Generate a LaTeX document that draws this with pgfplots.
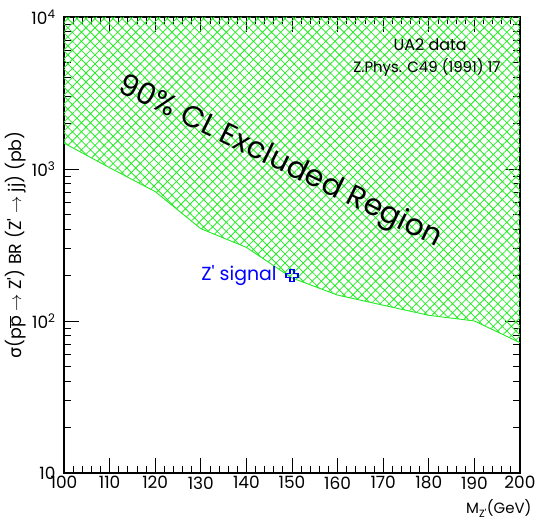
\documentclass[border=0pt]{standalone}
\usepackage{fontspec}
\setmainfont{Poppins}
\newfontfamily\dejavu{DejaVu Sans}
\usepackage{pgfplots}
\pgfplotsset{compat=1.18}
\usetikzlibrary{patterns.meta}
\definecolor{hatchgreen}{rgb}{0.15,0.92,0.15}
\pgfdeclareplotmark{oplus}{%
  \pgfpathmoveto{\pgfqpoint{-0.33\pgfplotmarksize}{\pgfplotmarksize}}%
  \pgfpathlineto{\pgfqpoint{0.33\pgfplotmarksize}{\pgfplotmarksize}}%
  \pgfpathlineto{\pgfqpoint{0.33\pgfplotmarksize}{0.33\pgfplotmarksize}}%
  \pgfpathlineto{\pgfqpoint{\pgfplotmarksize}{0.33\pgfplotmarksize}}%
  \pgfpathlineto{\pgfqpoint{\pgfplotmarksize}{-0.33\pgfplotmarksize}}%
  \pgfpathlineto{\pgfqpoint{0.33\pgfplotmarksize}{-0.33\pgfplotmarksize}}%
  \pgfpathlineto{\pgfqpoint{0.33\pgfplotmarksize}{-\pgfplotmarksize}}%
  \pgfpathlineto{\pgfqpoint{-0.33\pgfplotmarksize}{-\pgfplotmarksize}}%
  \pgfpathlineto{\pgfqpoint{-0.33\pgfplotmarksize}{-0.33\pgfplotmarksize}}%
  \pgfpathlineto{\pgfqpoint{-\pgfplotmarksize}{-0.33\pgfplotmarksize}}%
  \pgfpathlineto{\pgfqpoint{-\pgfplotmarksize}{0.33\pgfplotmarksize}}%
  \pgfpathlineto{\pgfqpoint{-0.33\pgfplotmarksize}{0.33\pgfplotmarksize}}%
  \pgfpathclose
  \pgfusepathqstroke}
\begin{document}
\begin{tikzpicture}
\begin{axis}[
  scale only axis, width=456bp, height=456bp,
  xmin=100, xmax=200, ymin=10, ymax=10000, ymode=log,
  xtick={100,110,...,200}, minor x tick num=4,
  ytick={10,100,1000,10000},
  yticklabels={10,10\textsuperscript{2},10\textsuperscript{3},10\textsuperscript{4}},
  tick label style={font=\fontsize{17}{19}\selectfont},
  yticklabel style={xshift=-5bp},
  /pgf/number format/assume math mode=true,
  /pgf/number format/1000 sep={},
  major tick length=15bp, minor tick length=7.5bp,
  tick style={black, line width=0.8bp},
  axis line style={line width=1.2bp},
  ylabel={{\dejavu σ}(p$\overline{\mbox{p}}$ $\rightarrow$ Z\textquotesingle) BR (Z\textquotesingle{} $\rightarrow$ jj) (pb)},
  ylabel style={at={(axis description cs:-0.107,0.5)}, anchor=center, font=\fontsize{17.5}{19}\selectfont},
  xlabel={M\textsubscript{Z\textquotesingle}(GeV)},
  xlabel style={at={(axis description cs:1,0)}, anchor=base east, xshift=15bp, yshift=-41bp, font=\fontsize{15}{17}\selectfont},
  clip=true,
]
\addplot[draw=none, pattern={Hatch[angle=45,distance=6.4bp,line width=0.8bp]}, pattern color=hatchgreen]
  coordinates {(100,1480) (110,1020) (120,710) (130,405) (140,305) (150,192) (160,148) (170,127) (180,109) (190,100) (200,72) (200,10000) (100,10000)} -- cycle;
\addplot[hatchgreen, line width=0.9bp] coordinates {(100,1480) (110,1020) (120,710) (130,405) (140,305) (150,192) (160,148) (170,127) (180,109) (190,100) (200,72)};
\addplot[blue, only marks, mark=oplus, mark size=6bp, line width=1.1bp] coordinates {(150,198)};
\node[text=blue, anchor=east, font=\fontsize{19}{21}\selectfont] at (axis cs:147.4,200) {Z\textquotesingle{} signal};
\node[rotate=-26, font=\fontsize{30}{34}\selectfont] at (axis cs:147.4,1100) {90\% CL Excluded Region};
\node[font=\fontsize{16}{18}\selectfont] at (axis cs:180.3,6550) {UA2 data};
\node[font=\fontsize{15}{17}\selectfont] at (axis cs:179.6,4690) {Z.Phys. C49 (1991) 17};
\end{axis}
\pgfresetboundingbox
\path ([shift={(-64bp,-48bp)}]current axis.south west) rectangle ([shift={(19bp,17bp)}]current axis.north east);
\end{tikzpicture}
\end{document}
